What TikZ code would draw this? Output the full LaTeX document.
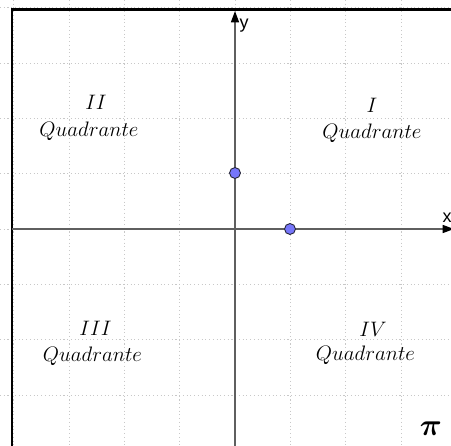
\RequirePackage{fix-cm}
\documentclass[tikz,border=0pt]{standalone}
\usepackage{fontspec}
\usetikzlibrary{arrows.meta}
\newfontfamily\axfont{Liberation Sans}
\definecolor{ptblue}{RGB}{118,118,250}
\definecolor{ptedge}{RGB}{40,40,60}
\definecolor{gridgray}{RGB}{200,200,200}
\definecolor{axisgray}{RGB}{95,95,95}
\begin{document}
\begin{tikzpicture}[x=0.75pt,y=-0.75pt,
  gridline/.style={gridgray, line width=0.55pt, dash pattern=on 0.8pt off 2pt},
  axisline/.style={axisgray, line width=1.1pt},
  axtip/.style={-{Triangle[length=8.5pt,width=6pt,fill=black,color=black]}},
  pt/.style={circle, minimum size=8.2pt, inner sep=0pt, fill=ptblue, draw=ptedge, line width=0.7pt},
  quad/.style={anchor=base, inner sep=0pt, font=\fontsize{15.7}{18}\selectfont},
  axlabel/.style={inner sep=0pt, font=\axfont\fontsize{13.5}{15}\selectfont}]
\clip (0,0) rectangle (451,446);
\fill[white] (0,0) rectangle (451,446);
% grid
\foreach \k in {-4,...,4} {
  \draw[gridline] (235+\k*55.3,0) -- (235+\k*55.3,446);
  \draw[gridline] (0,229+\k*55.3) -- (451,229+\k*55.3);
}
% frame
\draw[black, line width=1.5pt] (11.5,460) -- (11.5,9.5) -- (470,9.5);
% axes
\coordinate (ybot) at (235,450);
\coordinate (ytop) at (235,11);
\coordinate (xleft) at (12,229);
\coordinate (xright) at (454,229);
\draw[axisline, axtip] (ybot) -- (ytop);
\draw[axisline, axtip] (xleft) -- (xright);
\node[axlabel] (ylab) at (244,26) {y};
\node[axlabel] (xlab) at (447,218) {x};
% points
\node[pt] (A) at (235,173) {};
\node[pt] (B) at (290,229) {};
% quadrant labels
\node[quad] (q2n) at (96,109) {$II$};
\node[quad] (q2) at (89,137) {$Quadrante$};
\node[quad] (q1n) at (372,113) {$I$};
\node[quad] (q1) at (372,138) {$Quadrante$};
\node[quad] (q3n) at (95.5,335) {$III$};
\node[quad] (q3) at (92.5,361) {$Quadrante$};
\node[quad] (q4n) at (373,336) {$IV$};
\node[quad] (q4) at (365.5,360) {$Quadrante$};
% pi
\node[anchor=base, inner sep=0pt, font=\boldmath\fontsize{23}{28}\selectfont] (pi) at (431,435) {$\pi$};
\end{tikzpicture}
\end{document}
